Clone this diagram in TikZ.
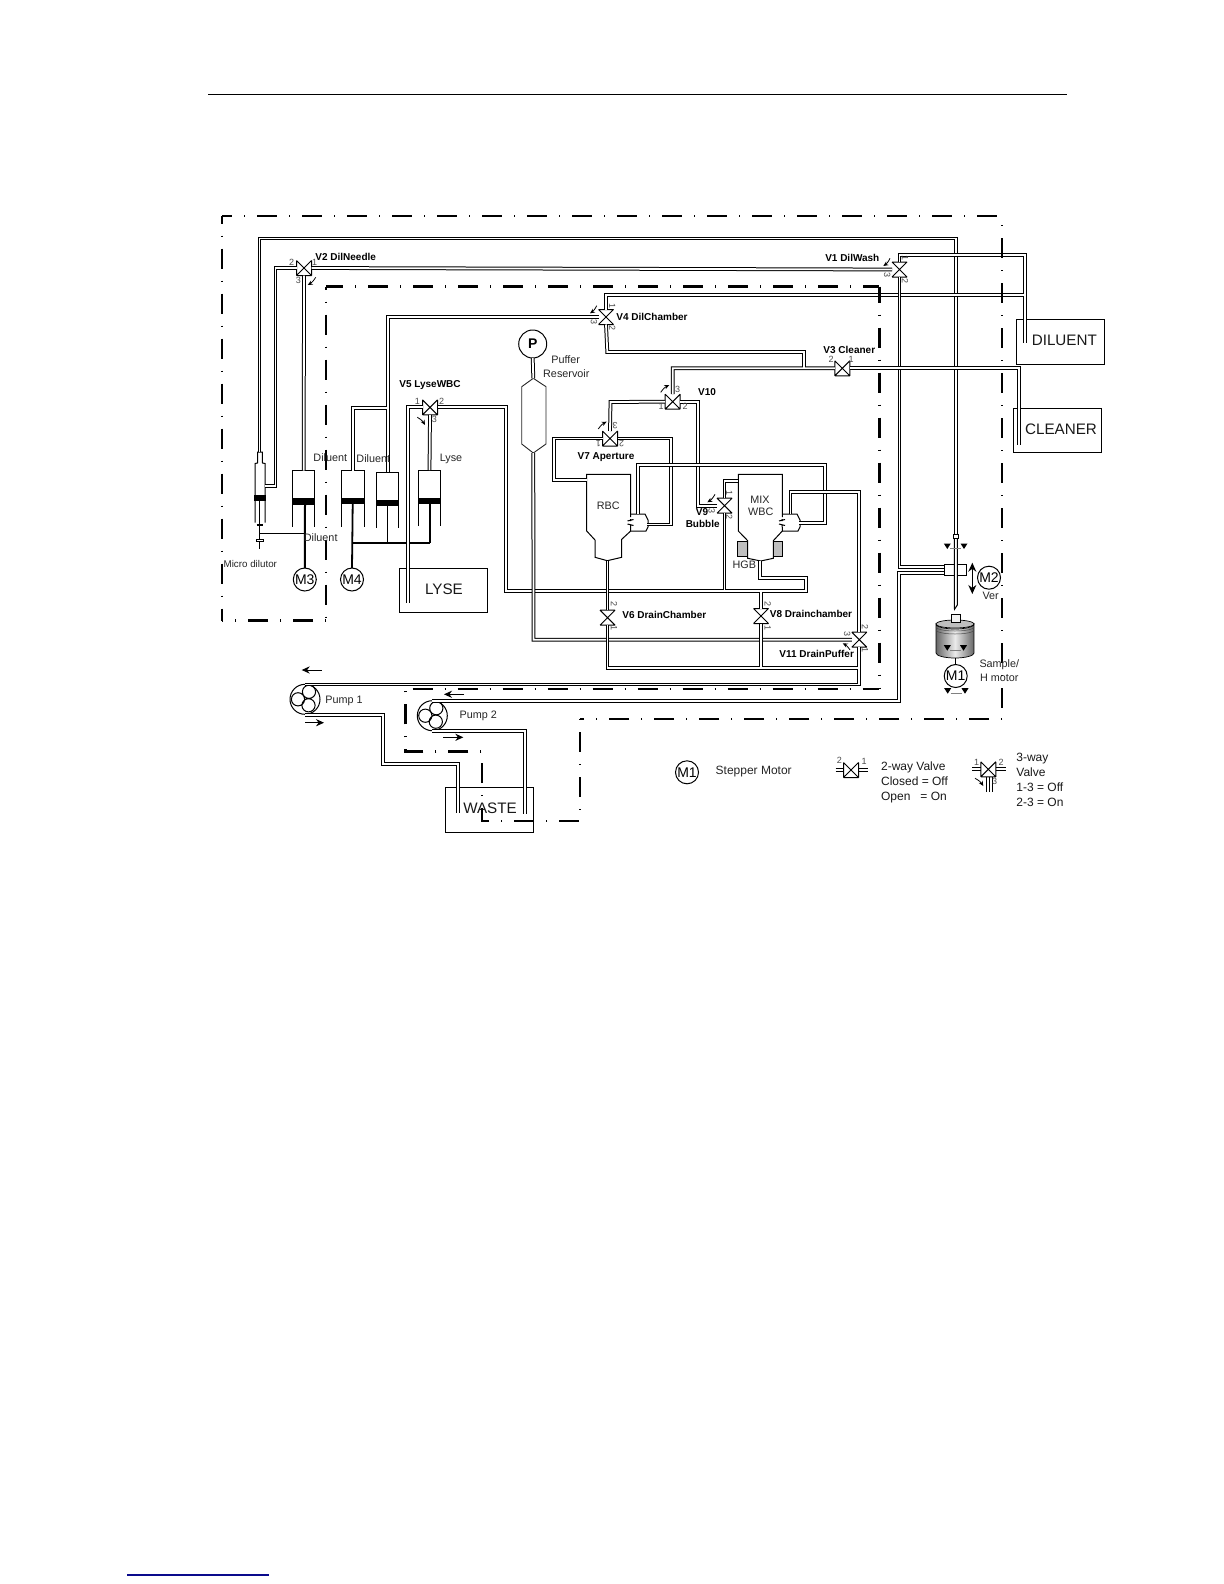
\documentclass[tikz,border=0pt]{standalone}
\usepackage{fontspec}
\setmainfont{Liberation Sans}
\usetikzlibrary{arrows.meta}
\definecolor{linkblue}{RGB}{10,10,140}
\tikzset{
  x=0.5pt,y=-0.5pt,
  thinline/.style={line width=0.5pt,black},
  pipeouter/.style={line width=1.9pt,black,line join=miter},
  pipeinner/.style={line width=0.9pt,white,line join=miter},
  valvebox/.style={minimum size=7.5pt,inner sep=0pt,outer sep=0pt},
  valveline/.style={line width=0.5pt,black},
  boxnode/.style={draw,line width=0.5pt,inner sep=0pt,outer sep=0pt},
  motor/.style={draw,circle,line width=0.5pt,minimum size=11.5pt,inner sep=0pt,outer sep=0pt,font=\fontsize{7}{8}\selectfont},
  lbl/.style={inner sep=0pt,font=\fontsize{5.4}{6}\selectfont,text=black!85},
  vlbl/.style={inner sep=0pt,font=\fontsize{5}{6}\selectfont\bfseries},
  dig/.style={inner sep=0pt,font=\fontsize{4.5}{5}\selectfont,text=black!70},
  bigt/.style={inner sep=0pt,font=\fontsize{7.6}{9}\selectfont,text=black!90},
  legt/.style={inner sep=0pt,anchor=base west,font=\fontsize{6}{7}\selectfont,text=black!90},
  border/.style={line width=1.4pt,black},
  rod/.style={line width=1pt,black},
  flow/.style={line width=0.5pt,-{Stealth[length=4pt,width=3.6pt]}},
  turn/.style={line width=0.4pt,-{Stealth[length=2.5pt,width=2.2pt]}},
}
\newcommand{\pipeset}[1]{\draw[pipeouter] #1; \draw[pipeinner] #1;}
\newcommand{\bseg}[2]{\draw[border,dash pattern=on 10pt off 6pt on 0.7pt off 5.8pt,dash phase=#1] #2;}
\newcommand{\valveH}[3]{\node[valvebox] (#1) at (#2,#3) {};
  \draw[valveline] (#1.north west)--(#1.south east) (#1.north east)--(#1.south west)
    (#1.north west)--(#1.south west) (#1.north east)--(#1.south east) (#1.south west)--(#1.south east);}
\newcommand{\valveV}[3]{\node[valvebox] (#1) at (#2,#3) {};
  \draw[valveline] (#1.north west)--(#1.south east) (#1.north east)--(#1.south west)
    (#1.north west)--(#1.north east) (#1.south west)--(#1.south east);}
\newcommand{\cylinder}[7]{% x1 x2 top pistonTop pistonBot bottom name
  \draw[thinline] (#1,#6)--(#1,#3)--(#2,#3)--(#2,#6);
  \fill (#1,#4) rectangle (#2,#5);
  \coordinate (#7) at ({(#1+#2)/2},#3);}
\newcommand{\turnticks}[3]{%
  \fill (#1-3.5,#3-2.5)--(#1+3.5,#3-2.5)--(#1,#3+3)--cycle;
  \fill (#2-3.5,#3-2.5)--(#2+3.5,#3-2.5)--(#2,#3+3)--cycle;
  \draw[line width=0.2pt,black!50] (#1+3,#3+2)--(#2-3,#3+2);}
\newcommand{\pump}[3]{% name x y
  \node[draw,circle,line width=0.5pt,minimum size=15pt,inner sep=0pt] (#1) at (#2,#3) {};
  \draw[line width=0.5pt] (#2+4,#3-7.5) circle[radius=3.3pt] (#2-7,#3) circle[radius=3.3pt] (#2+3.5,#3+6) circle[radius=3.3pt];}
\begin{document}
\begin{tikzpicture}
\useasboundingbox[fill=white] (0,0) rectangle (1224,1584);

% page furniture
\draw[line width=0.5pt] (208,95)--(1067,95);
\draw[linkblue,line width=0.6pt] (127,1575)--(269,1575);

% boxes
\node[boxnode,minimum width=44pt,minimum height=22.5pt] (diluentbox) at (1060.3,341.8) {};
\node[boxnode,minimum width=44pt,minimum height=22pt] (cleanerbox) at (1057.3,430.3) {};
\node[boxnode,minimum width=44pt,minimum height=22pt] (lysebox) at (443.3,590.3) {};
\node[boxnode,minimum width=44pt,minimum height=22.5pt] (wastebox) at (489.5,809.8) {};
\node[bigt] (tdil) at (1064.3,340.7) {DILUENT};
\node[bigt] (tcle) at (1061,429) {CLEANER};
\node[bigt] (tlys) at (444,589.3) {LYSE};
\node[bigt] (twas) at (490,808.7) {WASTE};

% valves
\valveH{vtwo}{304}{268}
\valveV{vone}{899.5}{269.5}
\valveV{vfour}{606}{317}
\valveH{vthree}{842.3}{368.3}
\valveH{vfive}{430}{407.3}
\valveH{vten}{672.7}{401.7}
\valveH{vseven}{610}{438.5}
\valveV{vnine}{724.5}{505.7}
\valveV{vsix}{607.5}{617.7}
\valveV{veight}{761}{616}
\valveV{veleven}{859.3}{639.7}

% reference coordinates
\coordinate (dilutorin) at (259.5,452);
\coordinate (dilutorside) at (265,486);
\coordinate (dilbottom) at (1025.3,343);
\coordinate (clebottom) at (1018.7,445);
\coordinate (lysebottom) at (408,603);
\coordinate (clampA) at (944.3,567);
\coordinate (clampB) at (944.3,573);
\coordinate (rbcin) at (586.7,479.7);
\coordinate (rbcbot) at (607.5,560.7);
\coordinate (rbcport) at (638.3,514);
\coordinate (rbcportr) at (647,524.5);
\coordinate (wbcbot) at (759.7,561);
\coordinate (wbcin) at (738.3,481);
\coordinate (wbcportA) at (790.5,514);
\coordinate (wbcportB) at (799.3,522.8);

% chambers
\draw[thinline] (630.7,517)--(630.7,474.3)--(586.7,474.3)--(586.7,531)--(595,540)--(595,557.3)--(607.3,560.7)--(621.7,557.3)--(621.7,539.3)--(630.7,531)--(630.7,527);
\draw[thinline] (782.3,517)--(782.3,474.3)--(738.3,474.3)--(738.3,531)--(747.7,540.7)--(747.7,558.3)--(760.7,561)--(773.3,558.3)--(773.3,540.7)--(782.3,531)--(782.3,527);
% aperture ports
\draw[thinline] (630.7,514)--(645,514)--(648,520)--(648,527)--(646,531)--(630.7,531);
\draw[thinline] (782.3,514)--(797,514)--(800,520)--(800,527)--(798,531)--(782.3,531);
\draw[thinline] (627.5,521)--(633.5,519.5) (627.5,524)--(633.5,525.5) (630.5,519)--(630.5,521) (630.5,524.5)--(630.5,527);
\draw[thinline] (779,521)--(785,519.5) (779,524)--(785,525.5) (782,519)--(782,521) (782,524.5)--(782,527);
\fill[black!25,draw=black,line width=0.4pt] (737.7,541.7) rectangle (747.7,556.7);
\fill[black!25,draw=black,line width=0.4pt] (773.3,541.7) rectangle (782.3,556.7);

% reservoir
\node[motor,font=\fontsize{7}{8}\selectfont\bfseries,minimum size=14pt] (pcirc) at (532.7,344) {P};
\draw[line width=0.45pt,black!85] (533.3,378.3)--(546,386.7)--(546,444)--(533.3,453)--(521.7,444)--(521.7,386.7)--cycle;
\coordinate (restop) at (533.3,378.3);
\coordinate (resbot) at (533.3,453);

% cylinders
\cylinder{292.7}{314.7}{470.7}{498}{505}{526.7}{cyla}
\cylinder{341.7}{364}{470.7}{497.7}{504}{526.7}{cylb}
\cylinder{376.7}{398.7}{472.3}{500}{506}{527.7}{cylc}
\cylinder{418.3}{440.7}{470}{497.7}{504}{526}{cyld}

% motors
\node[motor] (mthree) at (304.8,579.5) {M3};
\node[motor] (mfour) at (352,579.5) {M4};
\node[motor] (mtwo) at (989,577.7) {M2};
\node[motor] (mone) at (955.7,676) {M1};
\draw[rod] (305,505)--(mthree.north);
\draw[line width=0.9pt] (352.7,504)--(mfour.north);
\draw[line width=1.1pt] (352.7,542.7)--(430,542.7);
\draw[line width=0.7pt] (387.5,506)--(387.5,542.7) (430,504)--(430,542.7);

% micro dilutor
\draw[thinline] (255,522.7)--(255,463.5)--(257.5,463)--(257.7,452)--(262.3,452)--(262.5,463)--(265,463.5)--(265,522.7);
\fill (254.3,495) rectangle (266,500.7);
\draw[thinline] (259.7,500)--(259.7,549);
\draw[line width=1pt] (256.7,525)--(263.3,525);
\draw[line width=0.4pt,fill=white] (256.7,539.3) rectangle (263.3,541);
\draw[thinline] (259.7,533.3)--(305,533.3);

% pumps
\pump{pone}{305}{699.3}
\pump{ptwo}{432.3}{715.7}

% sample probe, clamp, cup
\node[boxnode,minimum width=11.2pt,minimum height=5.8pt,fill=white] (clamp) at (955.5,569.8) {};
\draw[thinline,fill=white] (954.3,538)--(954.3,605)--(954.5,609.3)--(957.3,605)--(957.3,538);
\draw[line width=0.4pt,fill=white] (953.5,534) rectangle (958.5,538);
\turnticks{947.3}{964}{546}
\draw[line width=0.35pt,shade,shading=axis,left color=black!60,right color=black!60,middle color=black!8]
  (936,624)--(936,653) arc[start angle=180,end angle=360,x radius=9.5pt,y radius=2.5pt]--(974,624)
  arc[start angle=0,end angle=-180,x radius=9.5pt,y radius=2.5pt]--cycle;
\draw[line width=0.35pt,fill=black!25] (955,624) ellipse[x radius=9.5pt,y radius=2pt];
\draw[line width=0.25pt,black!70] (936,627) arc[start angle=180,end angle=360,x radius=9.5pt,y radius=2pt];
\draw[line width=0.25pt,black!70] (936,630) arc[start angle=180,end angle=360,x radius=9.5pt,y radius=2pt];
\draw[line width=0.35pt,fill=black!5] (951.5,614.5) rectangle (960,622);
\turnticks{947.3}{963.5}{647.7}
\turnticks{947.7}{965}{690.7}
\draw[line width=0.3pt] (955.7,658)--(mone.north);
\draw[line width=0.6pt,{Stealth[length=4.5pt,width=4pt]}-{Stealth[length=4.5pt,width=4pt]}] (972.3,562.7)--(972.3,594);

% pipes, one connected network at a time
\pipeset{(dilutorin)--(259.5,238.5)--(956,238.5)--(956,534)}
\pipeset{(vtwo.west)-|(275.5,486)--(dilutorside)}
\pipeset{(vtwo.south)--(cyla)}
\pipeset{(vtwo.east)--(vone.west)}
\pipeset{(vone.north)--(899.5,254.7)--(1025.3,254.7)--(dilbottom)
  (vfour.north)--(606,295)--(1025.3,295)}
\pipeset{(vone.south)--(899.5,567)--(clampA)}
\pipeset{(vfour.west)-|(388,472.3) (388,407.7)-|(cylb)}
\pipeset{(vfour.south)--(607.3,352)--(804,352)--(804,368.3)
  (vthree.west)--(672.7,368.3)--(vten.north)}
\pipeset{(vthree.east)--(1018.7,368.3)--(clebottom)}
\pipeset{(vseven.north)--(610.5,402)--(vten.west)}
\pipeset{(vten.east)--(698,401.7)--(698,505.7)--(vnine.west)}
\pipeset{(vseven.east)--(671.3,438.5)--(671.3,524.5)--(rbcportr)}
\pipeset{(vseven.west)--(554,438.5)--(554,479.7)--(rbcin)}
\pipeset{(rbcport)--(638.3,464.7)--(825.3,464.7)--(825.3,522.8)--(wbcportB)}
\pipeset{(vfive.west)-|(lysebottom)}
\pipeset{(vfive.south)--(cyld)}
\pipeset{(vfive.east)--(506.3,407.3)--(506.3,591.3)--(806.3,591.3)--(806.3,578)--(759.7,578)--(wbcbot)
  (vnine.south)--(724.5,591.3) (veight.north)--(761,591.3)}
\pipeset{(vnine.north)--(724.5,481)--(wbcin)}
\pipeset{(vsix.north)--(rbcbot)}
\pipeset{(wbcportA)--(790.5,492)--(859.3,492)--(veleven.north)}
\pipeset{(veleven.west)--(533.5,639.7)--(resbot)}
\pipeset{(restop)--(pcirc.south)}
\pipeset{(vsix.south)--(607.5,668)--(859.3,668) (veight.south)--(761,668)
  (veleven.south)--(859.3,684.5)--(305,684.5)}
\pipeset{(305,715)--(382.8,715)--(382.8,764.3)--(457.8,764.3)--(457.8,813)}
\pipeset{(432.3,701.3)--(899,701.3)--(899,573)--(clampB)}
\pipeset{(432.3,730.7)--(524.6,730.7)--(524.6,814)}

% boundary
\bseg{5pt}{(222,216)--(1002,216)}
\bseg{11.5pt}{(1002,216)--(1002,719)}
\bseg{16pt}{(1002,719)--(580,719)}
\bseg{16pt}{(580,719)--(580,821)--(482,821)--(482,751.7)--(405.7,751.7)--(405.7,689)}
\bseg{19pt}{(405.7,689)--(879.3,689)}
\bseg{2pt}{(879.3,286.5)--(879.3,689)}
\bseg{1.5pt}{(326,286.5)--(879.3,286.5)}
\bseg{8.5pt}{(326,286.5)--(326,620.7)}
\bseg{16pt}{(326,620.7)--(222,620.7)}
\bseg{6.15pt}{(222,216)--(222,620.7)}

% flow arrows
\draw[flow] (321.7,670)--(301.7,670);
\draw[flow] (305,722.7)--(324,722.7);
\draw[flow] (464,694.3)--(444,694.3);
\draw[flow] (443.3,737.3)--(463.3,737.3);

% turning arrows at valves
\draw[turn] (315.7,277.3) to[bend left=15] (307.7,285);
\draw[turn] (417.3,417.3) to[bend left=15] (425,425);
\draw[turn] (596.7,305.7) to[bend left=15] (590,313.3);
\draw[turn] (660.7,392.3) to[bend left=15] (669.3,385);
\draw[turn] (598.3,429) to[bend left=15] (606.7,421.7);
\draw[turn] (715,494.3) to[bend left=15] (707.3,502.3);
\draw[turn] (890,258.3) to[bend left=15] (883.3,266);
\draw[turn] (850,650) to[bend right=15] (842.7,643.3);

% valve labels
\node[vlbl] (lvtwo) at (345.7,256.7) {V2 DilNeedle};
\node[vlbl] (lvfive) at (430,385) {V5 LyseWBC};
\node[vlbl] (lvfour) at (652,316.7) {V4 DilChamber};
\node[vlbl] (lvthree) at (849.3,349.7) {V3 Cleaner};
\node[vlbl] (lvten) at (707,391.7) {V10};
\node[vlbl] (lvseven) at (606,456.7) {V7 Aperture};
\node[vlbl] (lvnine) at (702,512.3) {V9};
\node[vlbl] (lbub) at (702.7,524.3) {Bubble};
\node[vlbl] (lvsix) at (664.3,614.7) {V6 DrainChamber};
\node[vlbl] (lveight) at (811,613.7) {V8 Drainchamber};
\node[vlbl] (lveleven) at (816.7,654.3) {V11 DrainPuffer};
\node[vlbl] (lvone) at (852.3,257.7) {V1 DilWash};

% port digits
\foreach \t/\a/\b/\r in {2/291.7/262.7/0,1/314.7/262.7/0,3/298.3/280/0,
  1/417.3/401/0,2/441.7/401.7/0,3/434.3/419/0,
  1/612.3/305.7/-90,3/594/321.7/-90,2/612.3/328.3/-90,
  2/831/359.3/0,1/851/359.3/0,
  3/677.7/389/0,1/661/406.7/0,2/685/406.7/0,
  3/615/426/180,1/598.3/443.3/180,2/621.7/443.3/180,
  1/729.3/493.3/-90,2/729.3/517.3/-90,3/711.7/511/-90,
  1/905/257.7/-90,3/887.3/275/-90,2/905/281/-90,
  2/614/604/-90,1/614/628.3/-90,
  2/767.7/604/-90,1/767.7/628.3/-90,
  2/865/627.3/-90,1/865/650/-90,3/847.3/634/-90}
  {\node[dig,rotate=\r] at (\a,\b) {\t};}

% plain labels
\node[lbl] (tpuf) at (565.7,360) {Puffer};
\node[lbl] (tres) at (566.3,373.3) {Reservoir};
\node[lbl] (trbc) at (608.3,505.7) {RBC};
\node[lbl] (tmix) at (760,500) {MIX};
\node[lbl] (twbc) at (760.7,511.7) {WBC};
\node[lbl] (thgb) at (744.3,564.7) {HGB};
\node[lbl] (tdila) at (330.3,457.7) {Diluent};
\node[lbl] (tdilb) at (373.3,458.7) {Diluent};
\node[lbl] (tlyse) at (451,459) {Lyse};
\node[lbl] (tdilc) at (320.7,537.7) {Diluent};
\node[lbl,font=\fontsize{4.9}{6}\selectfont] (tmicro) at (250.3,564) {Micro dilutor};
\node[lbl] (tpone) at (344,700.7) {Pump 1};
\node[lbl] (tptwo) at (478.3,715.7) {Pump 2};
\node[lbl] (tver) at (990.7,596) {Ver};
\node[lbl] (tsam) at (999.3,664.3) {Sample/};
\node[lbl] (thm) at (999.3,677.7) {H motor};

% legend
\node[motor] (legm) at (687,772.3) {M1};
\node[lbl,font=\fontsize{6}{7}\selectfont] (tstep) at (753.7,771.5) {Stepper Motor};
\valveH{legtwo}{851}{770}
\draw[line width=0.45pt] (835.7,768.5)--(843.5,768.5) (835.7,771.5)--(843.5,771.5)
  (858.5,768.5)--(868,768.5) (858.5,771.5)--(868,771.5);
\node[dig] at (839.3,760.7) {2};
\node[dig] at (864,761.3) {1};
\node[legt] (tla) at (880.7,770) {2-way Valve};
\node[legt] (tlb) at (880.7,785.3) {Closed = Off};
\node[legt] (tlc) at (880.7,800) {Open\ \ \ = On};
\valveH{legthree}{988.3}{769.3}
\draw[line width=0.45pt] (972,767.8)--(980.8,767.8) (972,770.8)--(980.8,770.8)
  (995.8,767.8)--(1006,767.8) (995.8,770.8)--(1006,770.8)
  (986.5,777)--(986.5,791.7) (989.5,777)--(989.5,791.7) (992.5,777)--(992.5,791.7);
\draw[turn] (975,778.3) to[bend left=15] (983.3,786);
\node[dig] at (976.7,762.3) {1};
\node[dig] at (1001,762.3) {2};
\node[dig] at (994.7,781.7) {3};
\node[legt] (tma) at (1016,761) {3-way};
\node[legt] (tmb) at (1016,776) {Valve};
\node[legt] (tmc) at (1016,791) {1-3 = Off};
\node[legt] (tmd) at (1016,806) {2-3 = On};
\end{tikzpicture}
\end{document}
